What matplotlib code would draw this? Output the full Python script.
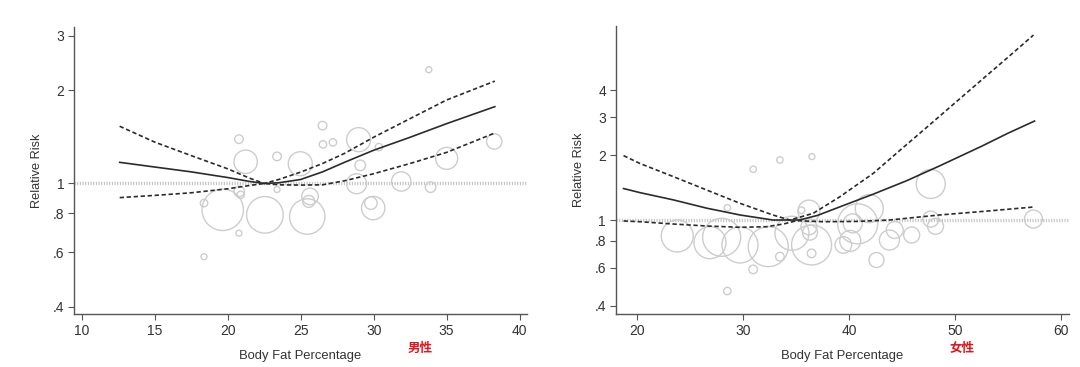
"""
Body fat percentage vs relative risk, dose-response (men / women).
Recreated with matplotlib.
"""
import numpy as np
import matplotlib
matplotlib.use("Agg")
import matplotlib.pyplot as plt

plt.rcParams["font.family"] = ["Liberation Sans", "DejaVu Sans"]

# ---- men ----
men_x = [12.6, 15, 17.5, 20, 21.5, 22.5, 23.5, 25, 26.5, 28, 30, 32.5, 35, 38.3]
men_rr = [1.17, 1.13, 1.09, 1.045, 1.015, 1.0, 1.005, 1.03, 1.09, 1.17, 1.28, 1.41, 1.56, 1.77]
men_hi = [1.53, 1.36, 1.23, 1.115, 1.04, 1.0, 1.03, 1.088, 1.16, 1.25, 1.41, 1.62, 1.86, 2.14]
men_lo = [0.90, 0.915, 0.933, 0.961, 0.985, 1.0, 0.99, 0.988, 0.99, 1.02, 1.075, 1.16, 1.26, 1.455]

men_pt_x = [26.5, 20.77, 26.53, 27.21, 28.97, 30.36, 38.26, 21.23, 23.38, 24.97,
            29.08, 35.0, 31.89, 28.83, 33.9, 23.38, 20.79, 20.89, 18.38, 19.66,
            22.55, 25.45, 25.64, 25.55, 29.97, 29.81, 20.77, 18.38, 33.78]
men_pt_rr = [1.537, 1.39, 1.337, 1.357, 1.385, 1.31, 1.367, 1.175, 1.223, 1.158,
             1.144, 1.205, 1.015, 0.998, 0.973, 0.956, 0.942, 0.919, 0.864, 0.822,
             0.792, 0.782, 0.908, 0.875, 0.833, 0.864, 0.691, 0.58, 2.33]
men_pt_w = [4.3, 4.3, 3.7, 3.7, 12, 3.7, 7.7, 11.7, 4.3, 12,
            5.3, 11, 9.7, 10, 5.3, 3, 5.3, 3.7, 3.7, 20.7,
            18.3, 17.7, 8.3, 6, 11.7, 6.3, 3, 3, 3]

# ---- women ----
wom_x = [18.7, 20.25, 23.4, 26.55, 29.7, 32.8, 35.3, 37, 39.1, 42.3, 45.4, 48.5, 52.5, 55, 57.5]
wom_rr = [1.40, 1.34, 1.24, 1.135, 1.055, 1.0, 1.0, 1.05, 1.15, 1.32, 1.52, 1.78, 2.2, 2.53, 2.88]
wom_hi_x = [18.7, 20.25, 23.4, 26.55, 29.7, 32.8, 34.4, 36.6, 39.1, 42.3, 45, 47.5, 50, 52.5, 55, 57.4]
wom_hi = [1.99, 1.83, 1.59, 1.378, 1.195, 1.055, 1.0, 1.074, 1.28, 1.65, 2.15, 2.74, 3.5, 4.47, 5.7, 7.22]
wom_lo_x = [18.7, 20.25, 23.4, 26.55, 29.7, 32.2, 33.8, 35.04, 37.55, 40.7, 43.8, 48.5, 53, 57.5]
wom_lo = [0.99, 0.982, 0.958, 0.938, 0.925, 0.931, 0.958, 0.993, 0.982, 0.985, 1.0, 1.055, 1.10, 1.15]

wom_pt_x = [23.77, 26.86, 27.96, 29.69, 32.36, 34.6, 36.45, 36.2, 36.3, 36.2,
            35.5, 33.46, 36.45, 30.94, 28.5, 30.94, 33.46, 36.48, 28.5, 40.8,
            41.9, 40.34, 40.1, 39.45, 42.58, 43.8, 44.3, 45.9, 47.7, 47.7,
            48.15, 57.39]
wom_pt_rr = [0.843, 0.785, 0.831, 0.766, 0.752, 0.868, 0.766, 0.93, 0.874, 1.10,
             1.11, 0.676, 0.70, 0.59, 0.468, 1.72, 1.90, 1.97, 1.14, 0.96,
             1.13, 0.965, 0.80, 0.766, 0.652, 0.807, 0.899, 0.852, 1.47, 1.01,
             0.935, 1.01]
wom_pt_w = [16, 16, 19, 18, 20, 17, 20, 8, 7.5, 11,
            3.3, 4.3, 4.3, 4.3, 3.7, 3.2, 3.2, 3, 3.2, 20,
            14, 9.5, 10.5, 8.3, 7.5, 10, 8.5, 8, 14.5, 8,
            8, 9]

LINE = "#2b2b2b"
DASH = (0, (2.6, 1.6))


def draw_panel(ax, cx, rr, hx, hi, lx, lo, px, prr, pw, xlim, ylim, xticks, yticks, ylabels, tag):
    ax.set_yscale("log")
    ax.set_xlim(*xlim)
    ax.set_ylim(*ylim)

    # reference line at RR = 1
    ax.axhline(1.0, color="#c4c4c4", lw=2.4, ls=(0, (0.35, 0.45)), zorder=1)

    sizes = (2 * np.array(pw) * 0.72) ** 2
    ax.scatter(px, prr, s=sizes, facecolors="none", edgecolors="#cdcdcd", linewidths=1.0, zorder=2)

    ax.plot(cx, rr, color=LINE, lw=1.2, zorder=3)
    ax.plot(hx, hi, color=LINE, lw=1.2, ls=DASH, zorder=3)
    ax.plot(lx, lo, color=LINE, lw=1.2, ls=DASH, zorder=3)

    ax.set_xticks(xticks)
    ax.set_yticks(yticks)
    ax.set_yticklabels(ylabels)
    ax.yaxis.set_minor_locator(matplotlib.ticker.NullLocator())
    ax.yaxis.set_minor_formatter(matplotlib.ticker.NullFormatter())

    for s in ["top", "right"]:
        ax.spines[s].set_visible(False)
    for s in ["left", "bottom"]:
        ax.spines[s].set_color("#555555")
        ax.spines[s].set_linewidth(1.0)
    ax.tick_params(axis="both", direction="out", length=4, width=0.8, color="#555555",
                   labelsize=10, labelcolor="#333333", pad=3)

    ax.set_xlabel("Body Fat Percentage", fontsize=9.4, color="#333333")
    ax.xaxis.set_label_coords(0.5, -0.125)
    ax.set_ylabel("Relative Risk", fontsize=9.2, color="#333333")
    ax.yaxis.set_label_coords(-0.068, 0.5)
    ax.text(0.764, -0.118, tag, transform=ax.transAxes, ha="center", va="center",
            color="#e0161b", fontsize=9, fontweight="bold",
            family=["Noto Sans CJK SC", "DejaVu Sans"])


fig = plt.figure(figsize=(10.8, 3.67), dpi=100)
ax1 = fig.add_axes([0.0685, 0.1436, 0.4194, 0.7828])
ax2 = fig.add_axes([0.5701, 0.1436, 0.4194, 0.7854])

draw_panel(ax1, men_x, men_rr, men_x, men_hi, men_x, men_lo,
           men_pt_x, men_pt_rr, men_pt_w,
           (9.47, 40.5), (0.378, 3.2), [10, 15, 20, 25, 30, 35, 40],
           [0.4, 0.6, 0.8, 1, 2, 3], [".4", ".6", ".8", "1", "2", "3"], "男性")
draw_panel(ax2, wom_x, wom_rr, wom_hi_x, wom_hi, wom_lo_x, wom_lo,
           wom_pt_x, wom_pt_rr, wom_pt_w,
           (17.96, 60.72), (0.365, 7.95), [20, 30, 40, 50, 60],
           [0.4, 0.6, 0.8, 1, 2, 3, 4], [".4", ".6", ".8", "1", "2", "3", "4"], "女性")

fig.savefig("out.png", dpi=100)
